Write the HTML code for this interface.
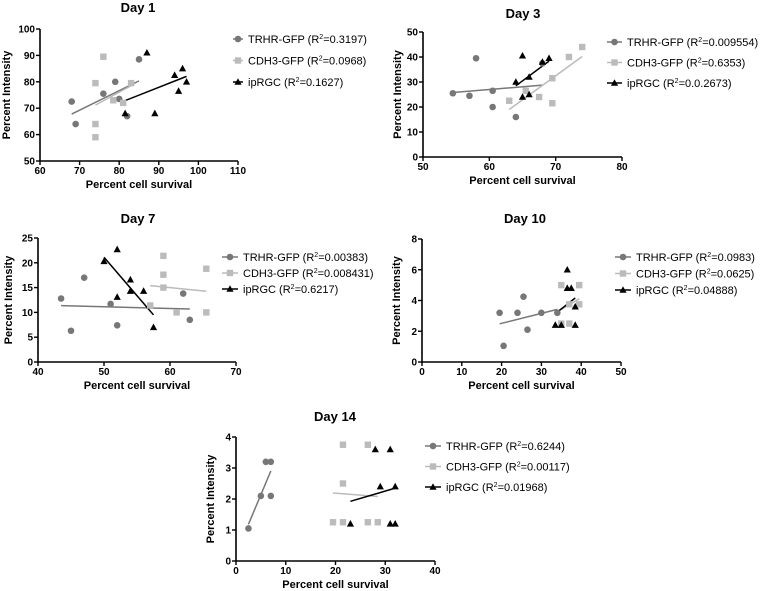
<!DOCTYPE html>
<html><head><meta charset="utf-8"><style>
html,body{margin:0;padding:0;background:#fff;width:760px;height:591px;overflow:hidden}
svg{font-family:"Liberation Sans",Arial,sans-serif}
.t{font-weight:bold;font-size:13px}
.tk{font-weight:bold;font-size:10px}
.al{font-weight:bold;font-size:11px}
.lg{font-size:11px}
</style></head><body>
<svg id="c" width="760" height="591"></svg>
<script>
const day1Trhr=[[68,72.5],[69,64],[76,75.5],[79,80],[80,73.5],[82,67],[85,88.5]];
const day1Cdh3=[[74,79.5],[74,64],[74,59],[76,89.5],[78.5,73],[81,72],[83,79.5]];
const day1Iprgc=[[87,91],[81.5,68],[89,68],[94,82.5],[95,76.5],[96,85],[97,80]];
const day3Trhr=[[54.5,25.5],[57,24.5],[58,39.5],[60.5,26.5],[60.5,20],[64,16],[68,37.5]];
const day3Cdh3=[[63,22.5],[65.5,26.5],[67.5,24],[69.5,31.5],[69.5,21.5],[72,40],[74,44]];
const day3Iprgc=[[64,30],[65,40.5],[65,24],[66,32],[66,25],[68,38],[69,39.5]];
const day7Trhr=[[43.5,12.8],[45,6.3],[47,17],[51,11.7],[52,7.4],[62,13.8],[63,8.5]];
const day7Cdh3=[[57,11.4],[59,21.4],[59,17.6],[59,15],[61,10],[65.5,18.8],[65.5,10]];
const day7Iprgc=[[50,20.3],[52,22.7],[52,13.1],[54,16.6],[54,14.3],[56,14.3],[57.5,7]];
const day10Trhr=[[19.5,3.2],[20.5,1.05],[24,3.2],[25.5,4.25],[26.5,2.1],[30,3.2],[34,3.2]];
const day10Cdh3=[[35,5],[35,2.5],[37,3.75],[37,2.5],[39.5,5],[39.5,3.75]];
const day10Iprgc=[[33.5,2.4],[35,2.4],[36.5,6],[36.5,4.8],[37.5,4.8],[38.5,3.6],[38.5,2.4]];
const day14Trhr=[[2.5,1.05],[5,2.1],[6,3.2],[7,3.2],[7,2.1]];
const day14Cdh3=[[19.5,1.25],[21.5,1.25],[21.5,2.5],[21.5,3.75],[26.5,3.75],[26.5,1.25],[28.5,1.25]];
const day14Iprgc=[[23,1.2],[28,3.6],[29,2.4],[31,3.6],[31,1.2],[32,1.2],[32,2.4]];
const legend1=["0.3197","0.0968","0.1627"];
const legend3=["0.009554","0.6353","0.0.2673"];
const legend7=["0.00383","0.008431","0.6217"];
const legend10=["0.0983","0.0625","0.04888"];
const legend14=["0.6244","0.00117","0.01968"];
const xt1=[60,70,80,90,100,110], yt1=[50,60,70,80,90,100];
const xt3=[50,60,70,80], yt3=[0,10,20,30,40,50];
const xt7=[40,50,60,70], yt7=[0,5,10,15,20,25];
const xt10=[0,10,20,30,40,50], yt10=[0,2,4,6,8];
const xt14=[0,10,20,30,40], yt14=[0,1,2,3,4];

const NS="http://www.w3.org/2000/svg";
const svg=document.getElementById('c');
function mk(tag,attrs,parent,text){const e=document.createElementNS(NS,tag);for(const k in attrs)e.setAttribute(k,attrs[k]);if(text!==undefined)e.textContent=text;(parent||svg).appendChild(e);return e;}
const colors=["#777","#bbb","#000"];
const names=["TRHR-GFP","CDH3-GFP","ipRGC"];
function marker(g,kind,x,y,col){
  let e;
  if(kind===0)e=mk('circle',{cx:x,cy:y,r:3.3,fill:col},g);
  else if(kind===1)e=mk('rect',{x:x-3.2,y:y-3.2,width:6.4,height:6.4,fill:col},g);
  else e=mk('polygon',{points:`${x},${y-3.8} ${x+3.6},${y+2.8} ${x-3.6},${y+2.8}`,fill:col},g);
  
  
}
function fit(pts){const n=pts.length;let sx=0,sy=0,sxx=0,sxy=0;pts.forEach(p=>{sx+=p[0];sy+=p[1];sxx+=p[0]*p[0];sxy+=p[0]*p[1];});const b=(n*sxy-sx*sy)/(n*sxx-sx*sx);const a=(sy-b*sx)/n;const xs=pts.map(p=>p[0]);return {a,b,x0:Math.min(...xs),x1:Math.max(...xs)};}
function panel(o){
  const g=mk('g',{});
  
  
  const X=v=>o.x0+(v-o.xt[0])/(o.xt[o.xt.length-1]-o.xt[0])*(o.x1-o.x0);
  const Y=v=>o.y0-(v-o.yt[0])/(o.yt[o.yt.length-1]-o.yt[0])*(o.y0-o.y1);
  const t=mk('text',{x:o.tx,y:o.ty,'text-anchor':'middle','class':'t'},g,o.title);
  
  const ax=mk('path',{d:`M${o.x0},${o.y1}V${o.y0}H${o.x1}`,stroke:'#000','stroke-width':1.6,fill:'none'},g);
  
  o.xt.forEach(v=>{mk('line',{x1:X(v),x2:X(v),y1:o.y0,y2:o.y0+4,stroke:'#000','stroke-width':1.4},g);
    const l=mk('text',{x:X(v),y:o.y0+13,'text-anchor':'middle','class':'tk'},g,v);});
  o.yt.forEach(v=>{mk('line',{x1:o.x0-4,x2:o.x0,y1:Y(v),y2:Y(v),stroke:'#000','stroke-width':1.4},g);
    const l=mk('text',{x:o.x0-5,y:Y(v)+3.5,'text-anchor':'end','class':'tk'},g,v);});
  const xl=mk('text',{x:(o.x0+o.x1)/2,y:o.y0+27,'text-anchor':'middle','class':'al'},g,'Percent cell survival');
  
  const yc=(o.y0+o.y1)/2, yx=o.x0-o.ylo;
  const yl=mk('text',{x:yx,y:yc,'text-anchor':'middle','class':'al',transform:`rotate(-90 ${yx} ${yc})`},g,'Percent Intensity');
  
  o.series.forEach((pts,k)=>{
    const f=fit(pts);
    const ln=mk('line',{x1:X(f.x0),y1:Y(f.a+f.b*f.x0),x2:X(f.x1),y2:Y(f.a+f.b*f.x1),stroke:colors[k],'stroke-width':1.5},g);
    
  });
  o.series.forEach((pts,k)=>pts.forEach(p=>marker(g,k,X(p[0]),Y(p[1]),colors[k])));
  o.leg.forEach((r,k)=>{
    const ly=o.ly+k*o.lgap;
    const lg=mk('g',{},g);
    
    mk('line',{x1:o.lx,x2:o.lx+o.toff-5,y1:ly,y2:ly,stroke:colors[k],'stroke-width':1.5},lg);
    marker(lg,k,o.lx+(o.toff-5)/2,ly,colors[k]);
    const tx=mk('text',{x:o.lx+o.toff,y:ly+4,'class':'lg'},lg);
    mk('tspan',{},tx,names[k]+' (R');
    mk('tspan',{'font-size':'7px',dy:-4},tx,'2');
    mk('tspan',{dy:4},tx,'='+r+')');
  });
}
panel({name:'day1-panel',title:'Day 1',tx:138,ty:12,x0:40,x1:238,y0:161,y1:29,xt:xt1,yt:yt1,ylo:30,series:[day1Trhr,day1Cdh3,day1Iprgc],leg:legend1,lx:233,toff:15,ly:39,lgap:21.5});
panel({name:'day3-panel',title:'Day 3',tx:523,ty:18,x0:423,x1:622,y0:157,y1:32,xt:xt3,yt:yt3,ylo:22,series:[day3Trhr,day3Cdh3,day3Iprgc],leg:legend3,lx:607,toff:20,ly:42,lgap:20.5});
panel({name:'day7-panel',title:'Day 7',tx:138,ty:223,x0:38,x1:236,y0:362,y1:238,xt:xt7,yt:yt7,ylo:26,series:[day7Trhr,day7Cdh3,day7Iprgc],leg:legend7,lx:222,toff:21,ly:257,lgap:16});
panel({name:'day10-panel',title:'Day 10',tx:525,ty:223,x0:422,x1:621,y0:362,y1:239,xt:xt10,yt:yt10,ylo:22,series:[day10Trhr,day10Cdh3,day10Iprgc],leg:legend10,lx:615,toff:21,ly:257,lgap:16.5});
panel({name:'day14-panel',title:'Day 14',tx:335,ty:421,x0:236,x1:435,y0:561,y1:437,xt:xt14,yt:yt14,ylo:22,series:[day14Trhr,day14Cdh3,day14Iprgc],leg:legend14,lx:425,toff:21,ly:446,lgap:20.5});
</script>
</body></html>
